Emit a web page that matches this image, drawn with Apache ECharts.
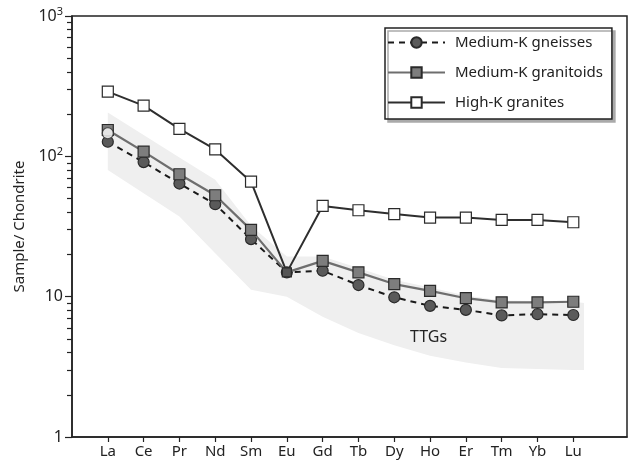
<!DOCTYPE html>
<html><head><meta charset="utf-8">
<script src="https://cdn.jsdelivr.net/npm/echarts@6/dist/echarts.min.js"></script>
<style>html,body{margin:0;padding:0;background:#fff}#c{width:633px;height:466px}</style>
</head><body><div id="c"></div>
<script>
const categories = ['La','Ce','Pr','Nd','Sm','Eu','Gd','Tb','Dy','Ho','Er','Tm','Yb','Lu'];
const mediumKGneisses = [127, 91, 64, 45.6, 25.7, 14.9, 15.3, 12.1, 9.9, 8.6, 8.05, 7.35, 7.5, 7.4];
const mediumKGranitoids = [154, 108, 74.5, 52.8, 29.9, 14.9, 18.0, 14.9, 12.3, 11.0, 9.75, 9.1, 9.1, 9.2];
const highKGranites = [289, 230, 157, 112, 66, 14.9, 44.3, 41.3, 38.8, 36.6, 36.6, 35.2, 35.2, 33.9];
const laOpenCircle = [146];
// TTG field outline (position along REE axis, value)
const ttgX = [1, 2, 3, 4, 5, 6, 7, 8, 9, 10, 11, 12, 13, 14, 14.3];
const ttgUpper = [205, 142, 98, 68, 32, 19.3, 19.3, 16, 13.2, 11.6, 10.2, 9.4, 9.3, 9.2, 9.0];
const ttgLower = [80, 54.6, 37.2, 20.4, 11.2, 10.0, 7.2, 5.5, 4.5, 3.8, 3.4, 3.1, 3.05, 3.0, 3.0];
const yMajor = [1, 10, 100, 1000];
const yMinor = [2,3,4,5,6,7,8,9,20,30,40,50,60,70,80,90,200,300,400,500,600,700,800,900];

const dark = '#222';
const font = 'Noto Sans';
const xs = categories.map((c, i) => i + 1);
const pairs = arr => arr.map((v, i) => [i + 1, v]);

const chart = echarts.init(document.getElementById('c'));
chart.setOption({
  animation: false,
  textStyle: { fontFamily: font, color: dark },
  grid: { left: 72, top: 16, right: 6, bottom: 29, show: true, borderColor: dark, borderWidth: 1.5, backgroundColor: 'transparent' },
  legend: {
    data: ['Medium-K gneisses', 'Medium-K granitoids', 'High-K granites'],
    orient: 'vertical', left: 385, top: 28,
    itemWidth: 57, itemHeight: 13, itemGap: 15,
    padding: [7, 9, 9, 2],
    backgroundColor: '#fff', borderColor: dark, borderWidth: 1.5,
    shadowColor: '#aaa', shadowOffsetX: 3, shadowOffsetY: 3, shadowBlur: 0,
    textStyle: { fontFamily: font, fontSize: 15, color: dark, padding: [0, 0, 0, 5] }
  },
  xAxis: {
    type: 'value', min: 0, max: 15.5, interval: 1,
    splitLine: { show: false },
    axisLine: { lineStyle: { color: dark, width: 1.5 } },
    axisTick: { show: true, length: 5, customValues: xs, lineStyle: { color: dark, width: 1.2 } },
    axisLabel: { customValues: xs, formatter: v => categories[Math.round(v) - 1] || '', fontSize: 15, color: dark, margin: 7, fontFamily: font }
  },
  yAxis: [{
    type: 'log', logBase: 10, min: 1, max: 1000,
    name: 'Sample/ Chondrite', nameLocation: 'middle', nameGap: 44,
    nameTextStyle: { fontSize: 15, color: dark, fontFamily: font },
    splitLine: { show: false },
    axisLine: { lineStyle: { color: dark, width: 1.5 } },
    axisTick: { show: true, length: 7, customValues: yMajor, lineStyle: { color: dark, width: 1.2 } },
    axisLabel: {
      customValues: yMajor, margin: 9, fontFamily: font,
      formatter: v => v >= 100 ? '{b|10}{s|' + Math.round(Math.log10(v)) + '}' : '{b|' + v + '}',
      rich: {
        b: { fontSize: 16, color: dark, fontFamily: font, lineHeight: 20 },
        s: { fontSize: 11, color: dark, fontFamily: font, verticalAlign: 'top', lineHeight: 20, padding: [0, 0, 8, 0] }
      }
    }
  }, {
    type: 'log', logBase: 10, min: 1, max: 1000, position: 'left',
    splitLine: { show: false },
    axisLine: { show: false },
    axisTick: { show: true, length: 5, customValues: yMinor, lineStyle: { color: dark, width: 1.2 } },
    axisLabel: { show: false }
  }],
  graphic: [{
    type: 'text', left: 410, top: 329, z: 5,
    style: { text: 'TTGs', fontSize: 16, fill: dark, fontFamily: font }
  }],
  series: [
    {
      name: 'TTG field', type: 'custom', silent: true, z: 1,
      data: [[1, 100]],
      renderItem: (params, api) => {
        const pts = [];
        ttgX.forEach((x, i) => pts.push(api.coord([x, ttgUpper[i]])));
        for (let i = ttgX.length - 1; i >= 0; i--) pts.push(api.coord([ttgX[i], ttgLower[i]]));
        return { type: 'polygon', shape: { points: pts }, style: { fill: '#efefef', stroke: null } };
      }
    },
    {
      name: 'Medium-K gneisses', type: 'line', z: 3, data: pairs(mediumKGneisses),
      symbol: 'circle', symbolSize: 11,
      lineStyle: { color: '#1a1a1a', width: 2, type: [6, 5] },
      itemStyle: { color: '#5a5a5a', borderColor: '#2a2a2a', borderWidth: 1.2 }
    },
    {
      name: 'High-K granites', type: 'line', z: 4,
      data: pairs(highKGranites).map((p, i) => categories[i] === 'Eu' ? { value: p, symbol: 'none' } : p),
      symbol: 'rect', symbolSize: 11,
      lineStyle: { color: '#2e2e2e', width: 2 },
      itemStyle: { color: '#fff', borderColor: '#2a2a2a', borderWidth: 1.2 }
    },
    {
      name: 'Medium-K granitoids', type: 'line', z: 5,
      data: pairs(mediumKGranitoids).map((p, i) => categories[i] === 'Eu' ? { value: p, symbolSize: 9, itemStyle: { color: '#555' } } : p),
      symbol: 'rect', symbolSize: 11,
      lineStyle: { color: '#6e6e6e', width: 2.2 },
      itemStyle: { color: '#7d7d7d', borderColor: '#2a2a2a', borderWidth: 1.2 }
    },
    {
      name: 'La open', type: 'scatter', z: 6, data: laOpenCircle.map(v => [1, v]),
      symbol: 'circle', symbolSize: 11,
      itemStyle: { color: '#fff', borderColor: '#2a2a2a', borderWidth: 1.2 }
    }
  ]
});
</script>
</body></html>
